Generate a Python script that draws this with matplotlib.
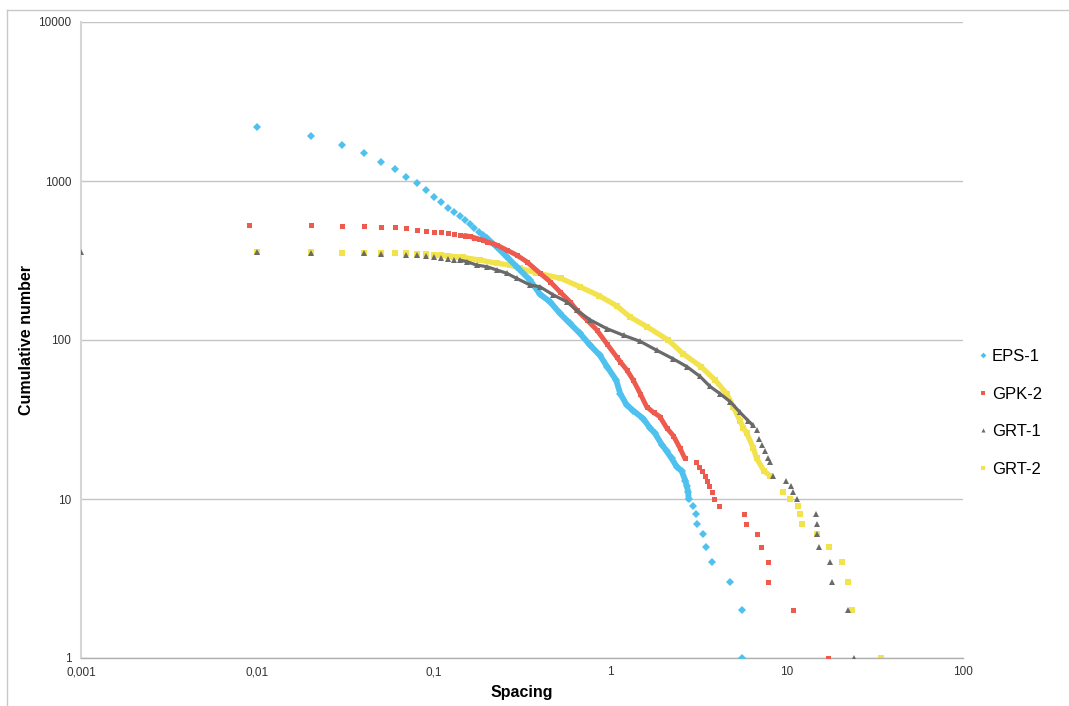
import matplotlib
matplotlib.use('Agg')
import matplotlib.pyplot as plt
from matplotlib.ticker import FixedLocator, FixedFormatter, NullLocator
from matplotlib.lines import Line2D

plt.rcParams['font.family'] = ['Liberation Sans', 'DejaVu Sans']

# spacing values and cumulative number
eps1_x = [0.01, 0.02, 0.03, 0.04, 0.05, 0.06, 0.07, 0.08, 0.09, 0.10,
          0.11, 0.12, 0.13, 0.14, 0.15, 0.16, 0.17, 0.18, 0.19, 0.20,
          0.227, 0.259, 0.295, 0.351, 0.40, 0.456, 0.519, 0.592, 0.674, 0.768,
          0.875, 0.96, 1.08, 1.14, 1.24, 1.35, 1.54, 1.68, 1.79, 1.96,
          2.09, 2.23, 2.38, 2.54, 2.67, 2.72, 2.77, 2.78,
          2.94, 3.05, 3.1, 3.34, 3.5, 3.8, 4.8, 5.6, 5.6]
eps1_y = [2190, 1920, 1690, 1490, 1320, 1185, 1055, 965, 875, 795,
          740, 680, 635, 600, 570, 540, 505, 478, 455, 436,
          386, 334, 289, 238, 194, 174, 147, 127, 110, 93,
          80, 68, 56, 46, 39, 36, 32, 28, 26, 22,
          20, 18, 16, 15, 13, 12, 11, 10,
          9, 8, 7, 6, 5, 4, 3, 2, 1]

gpk2_x = [0.009, 0.02, 0.03, 0.04, 0.05, 0.06, 0.07, 0.08, 0.09, 0.10,
          0.11, 0.12, 0.13, 0.14, 0.15, 0.16, 0.17, 0.18, 0.19, 0.20,
          0.227, 0.259, 0.295, 0.336, 0.40, 0.456, 0.519, 0.592, 0.646, 0.736,
          0.838, 0.955, 1.09, 1.14, 1.24, 1.35, 1.48, 1.61, 1.76, 1.91,
          2.09, 2.28, 2.48, 2.65,
          3.06, 3.2, 3.3, 3.45, 3.55, 3.65, 3.8, 3.9, 4.15,
          5.7, 5.9, 6.8, 7.2, 7.8, 7.8, 10.9, 17.1]
gpk2_y = [529, 528, 524, 520, 516, 512, 505, 494, 487, 481,
          477, 472, 466, 460, 454, 448, 440, 432, 424, 415,
          396, 368, 342, 311, 263, 233, 201, 174, 154, 134,
          116, 95, 78, 73, 65, 56, 46, 38, 35, 33,
          28, 25, 21, 18,
          17, 16, 15, 14, 13, 12, 11, 10, 9,
          8, 7, 6, 5, 4, 3, 2, 1]

grt1_x = [0.001, 0.01, 0.02, 0.04, 0.05, 0.07, 0.08, 0.09, 0.10, 0.11,
          0.12, 0.13, 0.14,
          0.154, 0.175, 0.2, 0.227, 0.259, 0.295, 0.351, 0.40, 0.476, 0.567,
          0.646, 0.768, 0.955, 1.19, 1.48, 1.84, 2.28, 2.72, 3.23, 3.68,
          4.19, 4.78, 5.45, 6.07, 6.45, 6.77, 7.0, 7.22, 7.5, 7.8, 8.05,
          8.34, 9.86, 10.6, 10.9, 11.5, 14.6, 14.8, 14.9, 15.3,
          17.6, 18.0, 22.4, 24.1]
grt1_y = [358, 356, 354, 350, 348, 344, 340, 336, 331, 327,
          323, 320, 318,
          311, 296, 289, 276, 263, 244, 222, 216, 192, 174,
          154, 134, 118, 107, 98, 86, 76, 68, 59, 51,
          46, 41, 35, 31, 29, 27, 24, 22, 20, 18, 17,
          14, 13, 12, 11, 10, 8, 7, 6, 5,
          4, 3, 2, 1]

grt2_x = [0.01, 0.02, 0.03, 0.04, 0.05, 0.06, 0.07, 0.08, 0.09, 0.10,
          0.11, 0.12, 0.13,
          0.146, 0.183, 0.227, 0.27, 0.308, 0.38, 0.526, 0.674, 0.864, 1.09,
          1.29, 1.62, 2.13, 2.59, 3.27, 3.93, 4.57, 4.99, 5.45, 5.69,
          5.94, 6.47, 6.76, 7.45, 8.05,
          9.57, 10.5, 11.6, 11.9, 12.3, 14.8, 17.5, 20.7, 22.3, 23.4, 34.2]
grt2_y = [357, 356, 355, 354, 353, 352, 350, 348, 345, 342,
          340, 338, 335,
          331, 318, 304, 296, 282, 265, 244, 216, 190, 164,
          140, 121, 100, 82, 68, 56, 46, 38, 31, 28,
          26, 21, 18, 15, 14,
          11, 10, 9, 8, 7, 6, 5, 4, 3, 2, 1]

x_ticks = [0.001, 0.01, 0.1, 1, 10, 100]
x_ticklabels = ['0,001', '0,01', '0,1', '1', '10', '100']
y_ticks = [1, 10, 100, 1000, 10000]
y_ticklabels = ['1', '10', '100', '1000', '10000']

W, H = 1069, 706

# name, x, y, marker style, band (min x, min y) where the points merge, band width, zorder
series = [
  ('GRT-2', grt2_x, grt2_y, dict(color='#f2e24c', marker='s', ms=3.9), (0.1, 14), 3.8, 2),
  ('EPS-1', eps1_x, eps1_y, dict(color='#4ec1ee', marker='D', ms=3.9), (0.19, 10), 4.2, 3),
  ('GPK-2', gpk2_x, gpk2_y, dict(color='#ee5a4e', marker='s', ms=3.6), (0.15, 18), 3.5, 4),
  ('GRT-1', grt1_x, grt1_y, dict(color='#6a6a6a', marker='^', ms=3.9), (0.14, 29), 2.3, 5),
]

fig = plt.figure(figsize=(W / 100, H / 100), dpi=100)
ax = fig.add_axes([81 / W, 48 / H, 882 / W, 636 / H])
ax.set_xscale('log')
ax.set_yscale('log')

handles = {}
for name, xs, ys, style, band, lw, z in series:
  bx = [a for a, b in zip(xs, ys) if a >= band[0] and b >= band[1]]
  by = [b for a, b in zip(xs, ys) if a >= band[0] and b >= band[1]]
  ax.plot(bx, by, '-', color=style['color'], lw=lw, solid_joinstyle='round',
          solid_capstyle='round', zorder=z)
  h, = ax.plot(xs, ys, linestyle='none', markeredgewidth=0, zorder=z, **style)
  handles[name] = h

ax.set_xlim(0.001, 100)
ax.set_ylim(1, 10000)
ax.xaxis.set_major_locator(FixedLocator(x_ticks))
ax.xaxis.set_major_formatter(FixedFormatter(x_ticklabels))
ax.xaxis.set_minor_locator(NullLocator())
ax.yaxis.set_major_locator(FixedLocator(y_ticks))
ax.yaxis.set_major_formatter(FixedFormatter(y_ticklabels))
ax.yaxis.set_minor_locator(NullLocator())
ax.tick_params(axis='both', length=0, labelsize=8.5, colors='#333333')
ax.tick_params(axis='x', pad=6)
ax.tick_params(axis='y', pad=7)

ax.yaxis.grid(True, color='#c4c4c4', lw=1)
ax.xaxis.grid(False)
ax.set_axisbelow(True)
for s in ['top', 'right']:
  ax.spines[s].set_visible(False)
ax.spines['left'].set_color('#d6d6d6')
ax.spines['bottom'].set_color('#b0b0b0')
ax.spines['left'].set_linewidth(1.5)
ax.spines['bottom'].set_linewidth(1)

fig.text(522 / W, 1 - 692 / H, 'Spacing', ha='center', va='center',
         fontsize=11.5, fontweight='bold')
fig.text(27 / W, 1 - 340 / H, 'Cumulative number', ha='center', va='center',
         rotation='vertical', fontsize=11.5, fontweight='bold')

order = ['EPS-1', 'GPK-2', 'GRT-1', 'GRT-2']
fig.legend([handles[n] for n in order], order, loc='center left',
           bbox_to_anchor=(977 / W, 1 - 413 / H), frameon=False, fontsize=12,
           handlelength=0.7, handletextpad=0.2, labelspacing=1.35,
           borderpad=0, borderaxespad=0, markerscale=0.75)

# chart area border
fig.add_artist(Line2D([7 / W, 7 / W], [0, 1 - 10 / H], transform=fig.transFigure,
                      color='#c8c8c8', lw=1))
fig.add_artist(Line2D([7 / W, 1], [1 - 10 / H, 1 - 10 / H], transform=fig.transFigure,
                      color='#c8c8c8', lw=1))

fig.savefig('out.png', dpi=100)
